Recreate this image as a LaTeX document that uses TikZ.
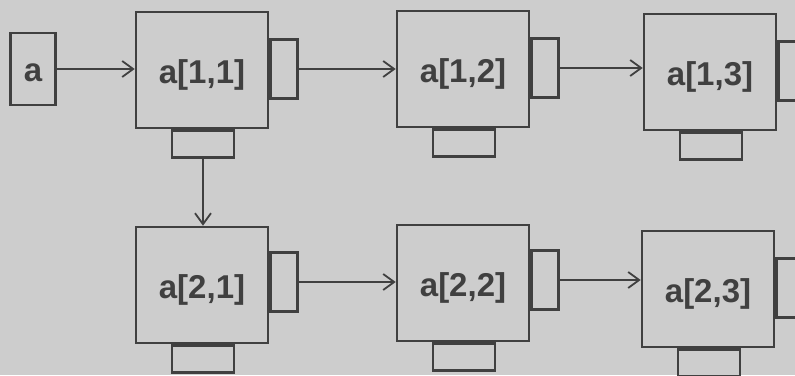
\documentclass[tikz,border=0pt]{standalone}
\usepackage{fontspec}
\setmainfont{Liberation Sans}
\usetikzlibrary{arrows.meta}
\definecolor{bg}{HTML}{CDCDCD}
\definecolor{ink}{HTML}{404040}
\begin{document}
\begin{tikzpicture}[x=1pt,y=-1pt,
  cell/.style={draw=ink,line width=2.6pt,minimum width=132pt,minimum height=116pt,inner sep=0pt,
    font=\fontsize{33}{36}\selectfont\bfseries,text=ink,text depth=0pt,text height=27pt},
  rtab/.style={draw=ink,line width=2.2pt,minimum width=27pt,minimum height=59pt,inner sep=0pt,anchor=west},
  btab/.style={draw=ink,line width=2.2pt,minimum width=62pt,minimum height=27pt,inner sep=0pt,anchor=north},
  src/.style={draw=ink,line width=2.6pt,minimum width=45pt,minimum height=72pt,inner sep=0pt,
    font=\fontsize{33}{36}\selectfont\bfseries,text=ink,text depth=0pt,text height=24pt},
  link/.style={draw=ink,line width=1.8pt,-{Straight Barb[length=11pt,width=16pt,line width=1.8pt]}}]
\useasboundingbox (0,0) rectangle (795,375);
\fill[bg] (0,0) rectangle (795,375);
\node[src] (a) at (33,69) {a};
\node[cell] (a11) at (202,70) {a[1,1]};
\node[cell] (a12) at (463,69) {a[1,2]};
\node[cell] (a13) at (710,72) {a[1,3]};
\node[cell] (a21) at (202,285) {a[2,1]};
\node[cell] (a22) at (463,283) {a[2,2]};
\node[cell] (a23) at (708,289) {a[2,3]};
\foreach \n/\dy in {a11/1,a12/1,a13/1,a21/3,a22/3,a23/1}{
  \node[rtab] (r\n) at ([yshift=\dy pt]\n.east) {};
  \node[btab] (b\n) at ([xshift=1pt]\n.south) {};
}
\draw[link] (a.east) -- (a.east -| a11.west);
\draw[link] (ra11.east) -- (ra11.east -| a12.west);
\draw[link] (ra12.east) -- (ra12.east -| a13.west);
\draw[link] (ra21.east) -- (ra21.east -| a22.west);
\draw[link] (ra22.east) -- (ra22.east -| a23.west);
\draw[link] (ba11.south) -- (ba11.south |- a21.north);
\end{tikzpicture}
\end{document}
